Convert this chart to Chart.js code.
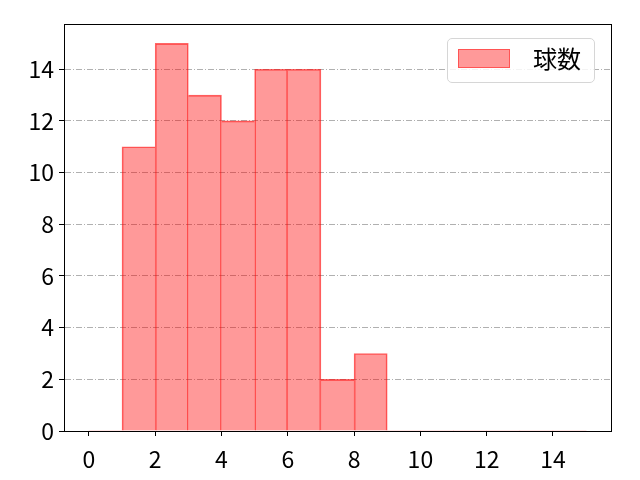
<!DOCTYPE html>
<html>
<head>
<meta charset="utf-8">
<script src="https://cdn.jsdelivr.net/npm/chart.js@4"></script>
<style>
  html, body { margin: 0; padding: 0; background: #fff; }
  #wrap { position: relative; width: 640px; height: 480px; }
  #legend {
    position: absolute; left: 447px; top: 38px; width: 146px; height: 43px;
    border: 1px solid #d6d6d6; border-radius: 5px; background: rgba(255,255,255,0.85);
    font-family: "Noto Sans CJK JP", sans-serif; font-size: 24px; color: #000;
  }
  #legend .swatch {
    position: absolute; left: 10px; top: 10px; width: 52px; height: 19px;
    background: #ff9999; box-sizing: border-box; border: 1px solid rgba(255,0,0,0.45);
  }
  #legend .label { position: absolute; left: 85px; top: 2px; line-height: 34px; }
</style>
</head>
<body>
<div id="wrap">
  <canvas id="c" width="640" height="480"></canvas>
  <div id="legend"><span class="swatch"></span><span class="label">球数</span></div>
</div>
<script>
// histogram bins (left edge), counts per bin
const binStarts = [0, 1, 2, 3, 4, 5, 6, 7, 8, 9, 10, 11, 12, 13, 14];
const counts    = [0, 11, 15, 13, 12, 14, 14, 2, 3, 0, 0, 0, 0, 0, 0];
const xTicks = [0, 2, 4, 6, 8, 10, 12, 14];
const yTicks = [0, 2, 4, 6, 8, 10, 12, 14];
const seriesLabel = '球数';

const FONT = { family: '"Noto Sans CJK JP", sans-serif', size: 23 };

// one shared edge between neighbouring bars, drawn by the taller one
function edges(ctx) {
  const i = ctx.dataIndex;
  const v = counts[i];
  if (!v) return 0;
  const prev = i > 0 ? counts[i - 1] : 0;
  const next = i < counts.length - 1 ? counts[i + 1] : 0;
  return { top: 1, bottom: 0, left: v > prev ? 1 : 0, right: v >= next ? 1 : 0 };
}

// black frame round the plot area
const frame = {
  id: 'frame',
  afterDraw(chart) {
    const { ctx, chartArea: a } = chart;
    ctx.save();
    ctx.strokeStyle = '#000';
    ctx.lineWidth = 1;
    ctx.setLineDash([]);
    ctx.strokeRect(Math.round(a.left) + 0.5, Math.round(a.top) + 0.5,
                   Math.round(a.right - a.left), Math.round(a.bottom - a.top));
    ctx.restore();
  },
};

new Chart(document.getElementById('c'), {
  type: 'bar',
  data: {
    datasets: [{
      label: seriesLabel,
      data: binStarts.map((b, i) => ({ x: b + 0.5, y: counts[i] })),
      backgroundColor: 'rgba(255,0,0,0.4)',
      borderColor: 'rgba(255,0,0,0.6)',
      borderWidth: edges,
      borderSkipped: false,
      barPercentage: 1,
      categoryPercentage: 1,
    }],
  },
  options: {
    responsive: false,
    animation: false,
    devicePixelRatio: 1,
    layout: { padding: { top: 24, right: 29, left: 0, bottom: 0 } },
    plugins: { legend: { display: false }, tooltip: { enabled: false } },
    scales: {
      x: {
        type: 'linear', min: -0.75, max: 15.75, offset: false,
        afterBuildTicks: s => { s.ticks = xTicks.map(v => ({ value: v })); },
        afterFit: s => { s.height = 49; },
        grid: { drawOnChartArea: false, offset: false, tickLength: 5, tickColor: '#000', tickWidth: 1 },
        border: { display: true, color: '#000' },
        ticks: { color: '#000', font: FONT, padding: 9, maxRotation: 0 },
      },
      y: {
        min: 0, max: 15.75,
        afterBuildTicks: s => { s.ticks = yTicks.map(v => ({ value: v })); },
        afterFit: s => { s.width = 64; },
        grid: {
          color: '#b0b0b0', lineWidth: 1,
          tickLength: 5, tickColor: '#000', tickWidth: 1, tickBorderDash: [],
        },
        border: { display: true, color: '#000', dash: [6, 2, 1, 2] },
        ticks: { color: '#000', font: FONT, padding: 5 },
      },
    },
  },
  plugins: [frame],
});
</script>
</body>
</html>
